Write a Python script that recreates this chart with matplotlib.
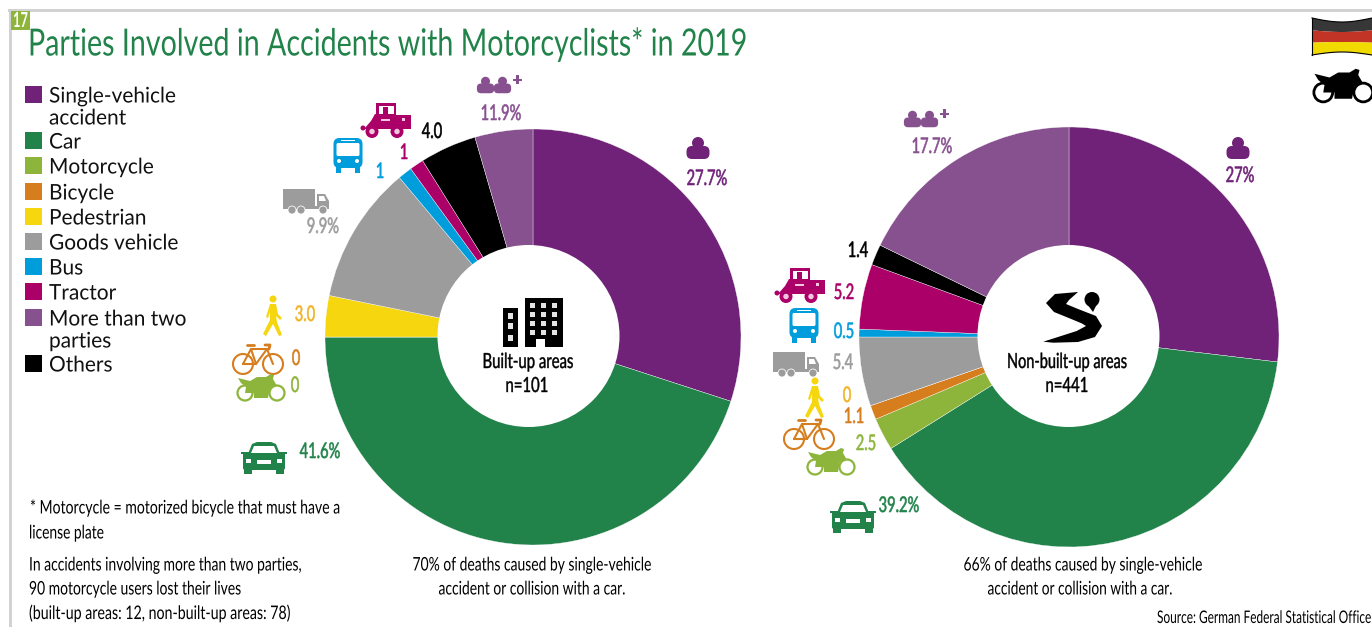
import numpy as np
import matplotlib
matplotlib.use("Agg")
import matplotlib.pyplot as plt
from matplotlib.patches import Circle, Rectangle, Polygon, FancyBboxPatch
from matplotlib.patheffects import AbstractPathEffect
from matplotlib.transforms import Affine2D

# legend
categories = ["Single-vehicle\naccident", "Car", "Motorcycle", "Bicycle", "Pedestrian",
              "Goods vehicle", "Bus", "Tractor", "More than two\nparties", "Others"]

# slice order round the ring, clockwise from the top
slice_names = ["Single", "Car", "Motorcycle", "Bicycle", "Pedestrian",
               "Goods", "Bus", "Tractor", "Others", "More"]

# shares as they are drawn in the picture (left ring does not follow its printed labels)
built_up_shares = [30.0, 45.0, 0.0, 0.0, 3.2, 10.7, 1.1, 1.1, 4.4, 4.5]
non_built_up_shares = [26.9, 39.2, 2.5, 1.1, 0.0, 5.3, 0.6, 5.0, 1.6, 17.8]

# printed labels
built_up_labels = ["27.7%", "41.6%", "0", "0", "3.0", "9.9%", "1", "1", "4.0", "11.9%"]
non_built_up_labels = ["27%", "39.2%", "2.5", "1.1", "0", "5.4", "0.5", "5.2", "1.4", "17.7%"]

PURPLE = "#6f2278"
GREEN = "#21824a"
LIME = "#8db53b"
ORANGE = "#d67d1e"
YELLOW = "#f6d60f"
GREY = "#9c9c9c"
BLUE = "#009ddc"
MAGENTA = "#aa0068"
MAUVE = "#87508f"
BLACK = "#000000"
AMBER = "#f0b429"

colors = dict(Single=PURPLE, Car=GREEN, Motorcycle=LIME, Bicycle=ORANGE, Pedestrian=YELLOW,
              Goods=GREY, Bus=BLUE, Tractor=MAGENTA, Others=BLACK, More=MAUVE)
legend_colors = [PURPLE, GREEN, LIME, ORANGE, YELLOW, GREY, BLUE, MAGENTA, MAUVE, BLACK]

W, H = 1372, 627
FONT = "Lato"

fig = plt.figure(figsize=(W / 100, H / 100), dpi=100, facecolor="white")
renderer = fig.canvas.get_renderer()


class Squeeze(AbstractPathEffect):
    # no condensed face is installed, so narrow the glyphs round the text anchor
    def __init__(self, anchor, sx, stroke=0.0):
        super().__init__()
        self.anchor, self.sx, self.stroke = anchor, sx, stroke

    def draw_path(self, renderer, gc, tpath, affine, rgbFace=None):
        squeezed = affine + Affine2D().translate(-self.anchor, 0).scale(self.sx, 1).translate(self.anchor, 0)
        gc0 = renderer.new_gc()
        gc0.copy_properties(gc)
        if self.stroke:
            gc0.set_linewidth(self.stroke)
            gc0.set_foreground(rgbFace)
        renderer.draw_path(gc0, tpath, squeezed, rgbFace)
        gc0.restore()


def ring(cx, cy, r, shares):
    ax = fig.add_axes([(cx - r) / W, 1 - (cy + r) / H, 2 * r / W, 2 * r / H])
    ax.pie(shares, colors=[colors[n] for n in slice_names], startangle=90, counterclock=False,
           radius=1, wedgeprops=dict(edgecolor="white", linewidth=0.25))
    ax.set_xlim(-1, 1)
    ax.set_ylim(-1, 1)
    ax.axis("off")


ring(533, 337, 208, built_up_shares)
ring(1069, 337, 210, non_built_up_shares)

# overlay in pixel coordinates for text and pictograms
ov = fig.add_axes([0, 0, 1, 1], zorder=5)
ov.set_xlim(0, W)
ov.set_ylim(H, 0)
ov.axis("off")
ov.patch.set_alpha(0)


def txt(x, y, s, color="black", size=15.5, ha="center", width=None, sx=0.7, stroke=0.0, family=FONT, **kw):
    t = ov.text(x, y + 1, s, color=color, fontsize=size, ha=ha, va="center", family=family, **kw)
    if width is not None:
        sx = width / t.get_window_extent(renderer).width
    t.set_path_effects([Squeeze(x, sx, stroke)])
    return t


def poly(points, x, y, color, s=1.0, **kw):
    pts = [(x + s * a, y + s * b) for a, b in points]
    ov.add_patch(Polygon(pts, closed=True, facecolor=color, edgecolor="none", **kw))


def rect(x, y, a, b, w, h, color, s=1.0):
    ov.add_patch(Rectangle((x + s * a, y + s * b), s * w, s * h, facecolor=color, edgecolor="none"))


def rrect(x, y, a, b, w, h, color, s=1.0, rad=2.0):
    ov.add_patch(FancyBboxPatch((x + s * a, y + s * b), s * w, s * h,
                                boxstyle="round,pad=0,rounding_size=%f" % (rad * s),
                                facecolor=color, edgecolor="none"))


def circ(x, y, a, b, r, color, s=1.0, **kw):
    ov.add_patch(Circle((x + s * a, y + s * b), r * s, facecolor=color, edgecolor="none", **kw))


def ringc(x, y, a, b, r, color, s=1.0, lw=1.6):
    ov.add_patch(Circle((x + s * a, y + s * b), r * s, facecolor="white", edgecolor=color, linewidth=lw))


def line(points, x, y, color, s=1.0, lw=1.5):
    ov.plot([x + s * p[0] for p in points], [y + s * p[1] for p in points], color=color, lw=lw,
            solid_capstyle="round", solid_joinstyle="round")


def person(x, y, color, s=1.0):
    circ(x, y, 0, -5, 6, color, s)
    rrect(x, y, -11.5, -2, 23, 13, color, s, rad=5.5)


def persons_plus(x, y, color):
    person(x - 8.5, y, color, 0.75)
    person(x + 8.5, y, color, 0.75)
    rect(x, y, 19, -6.5, 9, 2.2, color)
    rect(x, y, 22.4, -10, 2.2, 9, color)


def car(x, y, color):
    poly([(-16, -4), (-12, -14), (-7, -16), (7, -16), (12, -14), (16, -4)], x, y, color)
    rect(x, y, -23, -6, 4, 2, color)
    rect(x, y, 19, -6, 4, 2, color)
    rrect(x, y, -21, -6, 42, 18, color, rad=2)
    rect(x, y, -20, 10, 8, 6, color)
    rect(x, y, 12, 10, 8, 6, color)
    poly([(-13, -5), (-10, -12), (10, -12), (13, -5)], x, y, "white")
    rect(x, y, -18, 1, 5, 4, "white")
    rect(x, y, 13, 1, 5, 4, "white")
    rect(x, y, -7, 2, 14, 4, "white")


def truck(x, y, color, s=1.0):
    rect(x, y, -23, -14, 32, 17, color, s)
    rect(x, y, -23, 3, 46, 3, color, s)
    poly([(11, -9), (19, -9), (23, -2), (23, 5), (11, 5)], x, y, color, s)
    poly([(13, -7), (18, -7), (20, -2), (13, -2)], x, y, "white", s)
    for a in (-14, -5, 17):
        circ(x, y, a, 7, 4.4, "white", s)
        circ(x, y, a, 7, 3.6, color, s)


def bus(x, y, color):
    rrect(x, y, -14.5, -17, 29, 30, color, rad=6)
    rect(x, y, -12, 12, 5, 6, color)
    rect(x, y, 7, 12, 5, 6, color)
    rrect(x, y, -11.5, -12, 23, 13, "white", rad=1.5)
    rect(x, y, -7, -15, 14, 1, "white")
    circ(x, y, -9, 6, 2, "white")
    circ(x, y, 9, 6, 2, "white")


def tractor(x, y, color):
    pale = "#f3c6e0"
    rect(x, y, -10, -17, 20, 2.5, color)
    rect(x, y, -10, -17, 2.5, 13, color)
    rect(x, y, 7.5, -17, 2.5, 13, color)
    rect(x, y, -3, -13, 5, 8, color)
    poly([(-22, 9), (-15, 1), (-11, -6), (10, -6), (10, -5), (25, -5), (25, 9)], x, y, color)
    rect(x, y, 16, -2, 3, 3, pale)
    rect(x, y, -5, -1, 9, 2, pale)
    for a, r in ((-14, 6.5), (11, 6.5)):
        circ(x, y, a, 11.5, r, color)
        circ(x, y, a, 11.5, r * 0.42, pale)
    circ(x, y, -23, 8, 2.5, color)


def bicycle(x, y, color):
    ov.add_patch(Circle((x - 16, y + 7), 10, facecolor="none", edgecolor=color, linewidth=1.5))
    ov.add_patch(Circle((x + 14, y + 7), 10, facecolor="none", edgecolor=color, linewidth=1.5))
    line([(-16, 7), (-8, -8), (8, -8), (-3, 7), (-16, 7)], x, y, color)
    line([(-8, -8), (-3, 7)], x, y, color)
    line([(8, -8), (14, 7)], x, y, color)
    line([(-12, -12), (-5, -12)], x, y, color, lw=2)
    line([(6, -12), (11, -12), (10, -8)], x, y, color, lw=2)


def moto(x, y, color, s=1.0):
    lw = 1.6 * s
    ringc(x, y, -15, 6, 7.5, color, s, lw=lw)
    ringc(x, y, 17, 6, 7.5, color, s, lw=lw)
    poly([(-22, -9), (-10, -6), (-3, -10), (6, -10), (11, -13), (14, -12), (13, -8), (17, -1), (10, 1),
          (8, 11), (-6, 11), (-6, 6), (-15, 6), (-14, 0), (-19, -4)], x, y, color, s)


def walker(x, y, color):
    circ(x, y, 0, -17, 3.5, color)
    poly([(-3, -12), (3, -12), (5, -2), (9, 2), (7, 4), (3, 0), (4, 6), (9, 19), (6, 20),
          (0, 8), (-7, 20), (-10, 18), (-3, 4), (-3, -4), (-5, 2), (-7, 1)], x, y, color)


def building(x, y):
    rect(x, y, -27, -14, 15, 39, "black")
    rect(x, y, -5, -24, 38, 49, "black")
    for b in (-9, 1, 13):
        rect(x, y, -22, b, 5, 6, "#e4e4e4")
    for b in (-19, -10, -1, 8):
        for a in (0, 11, 22):
            rect(x, y, a, b, 5, 5, "#e4e4e4")
    rect(x, y, 6, 17, 9, 8, "white")


def road(x, y):
    poly([(-26.7, 21.7), (6.7, 11), (16, 6), (12, 3.5), (0, -1.5), (-16, -8), (-24, -17),
          (-15, -26), (8, -28), (-1, -20), (-4, -16), (8, -11), (26, -4), (32, 6),
          (25, 17), (8, 22), (-16.7, 22.7)], x, y, "black")
    circ(x, y, 22, -20.5, 7.5, "black")
    poly([(17, -16), (27, -16), (23, -8)], x, y, "black")


def flag(x, y, w=60, h=38):
    t = np.linspace(0, 1, 30)
    bulge = np.sin(np.pi * t)
    top = y + 1 + 4 * bulge
    bot = y + h - 3 * bulge
    xs = x + t * w
    bands = [("#373737", 0, 1 / 3), ("#c23526", 1 / 3, 2 / 3), ("#f0da00", 2 / 3, 1)]
    for c, a, b in bands:
        y0 = top + (bot - top) * a
        y1 = top + (bot - top) * b
        ov.fill(np.r_[xs, xs[::-1]], np.r_[y0, y1[::-1]], color=c, lw=0)
    ov.plot(xs, top, color="black", lw=0.8)
    ov.plot(xs, bot, color="black", lw=0.8)
    ov.plot([xs[0], xs[0]], [top[0], bot[0]], color="black", lw=0.8)


# frame
ov.add_patch(Rectangle((8, 9), 1364, 2.5, facecolor="#d2d2d2", edgecolor="none"))
ov.add_patch(Rectangle((9, 9), 2.5, 618, facecolor="#d2d2d2", edgecolor="none"))
ov.add_patch(Rectangle((11, 11), 19, 19, facecolor=LIME, edgecolor="none"))
txt(20.5, 20, "17", "white", 15, width=15, weight="bold")
txt(28, 43, "Parties Involved in Accidents with Motorcyclists* in 2019", GREEN, 27, ha="left", width=720)

# legend
legend_y = [94.5, 140.5, 165.5, 191.5, 216.5, 241.5, 266.5, 291.5, 317.5, 363.5]
for yy, c, name in zip(legend_y, legend_colors, categories):
    ov.add_patch(Rectangle((25, yy - 8.5), 17, 17, facecolor=c, edgecolor="none"))
    first, *rest = name.split("\n")
    txt(49, yy + 1, first, "#111111", 15.5, ha="left", sx=0.97)
    if rest:
        txt(49, yy + 23, rest[0], "#111111", 15.5, ha="left", sx=0.97)

# hole of each ring
ov.add_patch(Circle((528.5, 336), 91, facecolor="white", edgecolor="none"))
ov.add_patch(Circle((1068.5, 336), 91, facecolor="white", edgecolor="none"))

building(530, 322)
txt(528, 361, "Built-up areas", "black", 15, width=91, stroke=0.3)
txt(527, 385, "n=101", "black", 15, width=43, stroke=0.3)
road(1070, 320)
txt(1067, 361, "Non-built-up areas", "black", 15, width=120, stroke=0.3)
txt(1067, 385, "n=441", "black", 15, width=43, stroke=0.3)

# left ring pictograms and labels
person(698, 148, PURPLE)
persons_plus(494, 85, MAUVE)
tractor(386, 120, MAGENTA)
bus(348, 155, BLUE)
truck(306, 203, GREY)
walker(273, 316, YELLOW)
bicycle(259, 357, ORANGE)
moto(260, 387, LIME)
car(264, 458, GREEN)

left_pos = [(707, 178), (320, 451), (295, 385), (296, 358), (305, 314),
            (323, 226), (380, 171), (404, 152), (432, 131), (501, 113)]
left_col = [PURPLE, GREEN, LIME, ORANGE, AMBER, GREY, BLUE, MAGENTA, BLACK, MAUVE]
for (xx, yy), lab, c in zip(left_pos, built_up_labels, left_col):
    txt(xx, yy, lab, c, 15.5, sx=0.68, stroke=0.4)

# right ring pictograms and labels
person(1238, 148, PURPLE)
persons_plus(921, 119, MAUVE)
tractor(800, 285, MAGENTA)
bus(804, 325, BLUE)
truck(796, 366, GREY)
walker(815, 398, YELLOW)
bicycle(810, 432, ORANGE)
moto(830, 461, LIME)
car(853, 517, GREEN)

right_pos = [(1240, 175), (899, 505), (866, 443), (854, 416), (847, 395),
             (843, 362), (844, 331), (844, 292), (858, 250), (932, 146)]
right_col = [PURPLE, GREEN, LIME, ORANGE, AMBER, GREY, BLUE, MAGENTA, BLACK, MAUVE]
for (xx, yy), lab, c in zip(right_pos, non_built_up_labels, right_col):
    txt(xx, yy, lab, c, 15.5, sx=0.68, stroke=0.4)

# notes
txt(30, 507, "* Motorcycle = motorized bicycle that must have a", "black", 13.5, ha="left", width=310)
txt(29, 532, "license plate", "black", 13.5, ha="left", width=75)
txt(29, 564, "In accidents involving more than two parties,", "black", 13.5, ha="left", width=273)
txt(29, 588, "90 motorcycle users lost their lives", "black", 13.5, ha="left", width=212)
txt(29, 612, "(built-up areas: 12, non-built-up areas: 78)", "black", 13.5, ha="left", width=262)
txt(532, 564, "70% of deaths caused by single-vehicle", "black", 13.5, width=239)
txt(532, 588, "accident or collision with a car.", "black", 13.5, width=187)
txt(1083, 564, "66% of deaths caused by single-vehicle", "black", 13.5, width=239)
txt(1080, 588, "accident or collision with a car.", "black", 13.5, width=185)
txt(1372, 617, "Source: German Federal Statistical Office", "black", 12.5, ha="right", width=215)

# flag and motorcycle badge, top right
flag(1312, 17)
moto(1342, 85, "black", 1.25)

fig.savefig("out.png", dpi=100, facecolor="white")
